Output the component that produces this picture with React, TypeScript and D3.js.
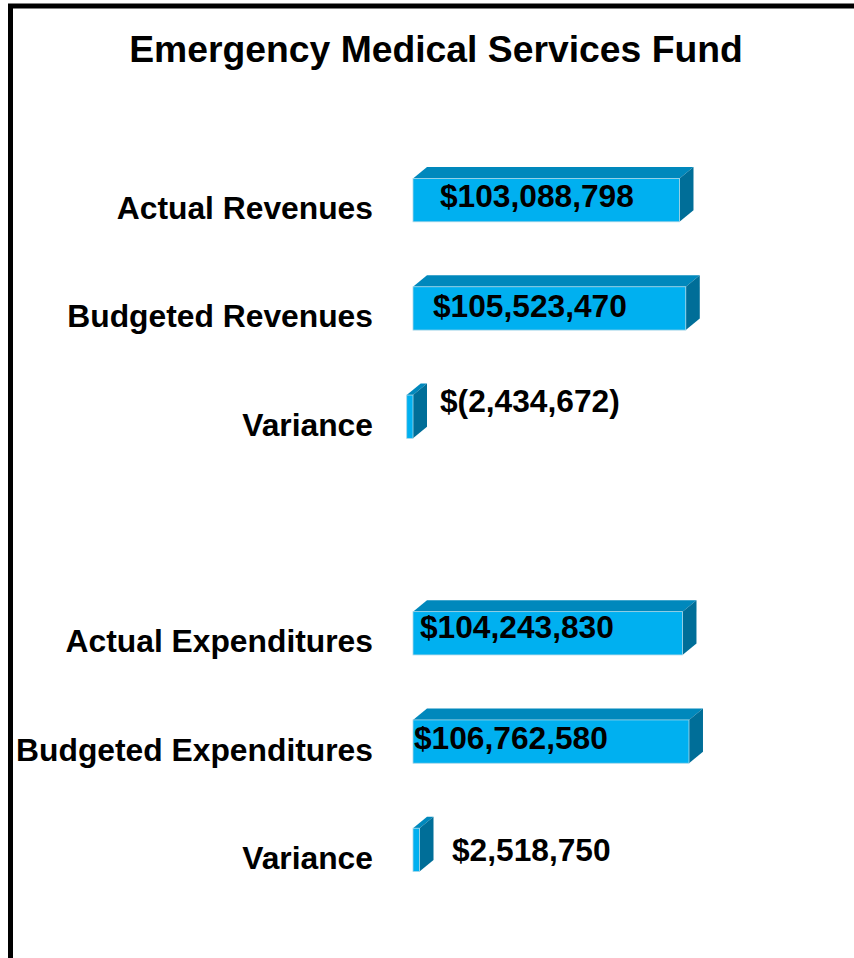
import React from "react";
import * as d3 from "d3";

const title = "Emergency Medical Services Fund";
const categories = [
  "Actual Revenues",
  "Budgeted Revenues",
  "Variance",
  "",
  "Actual Expenditures",
  "Budgeted Expenditures",
  "Variance",
];
const values: (number | null)[] = [
  103088798,
  105523470,
  -2434672,
  null,
  104243830,
  106762580,
  2518750,
];

// layout tweaks for the value labels (pixel offsets, not data)
const valueLabelDx = [27, 20, 27, 0, 7, 1, 39];
const valueLabelDy = [7, 9, -5, 0, 5, 7, 11];

const W = 854;
const H = 958;
const FONT = "'Liberation Sans', Arial, Helvetica, sans-serif";
const DX = 14;
const DY = 11.5;
const FRONT = "#00B0F0";
const TOP = "#0088BC";
const SIDE = "#006E98";

const fmt = (v: number) =>
  v < 0 ? `$(${d3.format(",")(-v)})` : `$${d3.format(",")(v)}`;

export default function App() {
  const idx = categories.map((_, i) => String(i));
  const y = d3
    .scaleBand<string>()
    .domain(idx)
    .range([146, 904])
    .paddingInner(0.6)
    .paddingOuter(0.3);
  const x = d3.scaleLinear().domain([0, 1.2e8]).range([413, 413 + 1.2e8 * 2.585e-6]);
  const bw = y.bandwidth();

  return (
    <svg
      width={W}
      height={H}
      style={{ position: "absolute", left: 0, top: 0, background: "#fff" }}
      fontFamily={FONT}
    >
      <rect x={0} y={0} width={W} height={H} fill="#fff" />
      <rect
        x={10.5}
        y={6}
        width={W + 20}
        height={H + 20}
        fill="none"
        stroke="#000"
        strokeWidth={5}
      />
      <text
        x={436}
        y={62}
        textAnchor="middle"
        fontSize={37.3}
        fontWeight="bold"
        fill="#000"
      >
        {title}
      </text>
      {categories.map((c, i) => {
        const v = values[i];
        const y0 = y(String(i))!;
        const yc = y0 + bw / 2;
        const label = (
          <text
            key={"c" + i}
            x={373}
            y={yc + 19}
            textAnchor="end"
            fontSize={31.8}
            fontWeight="bold"
            fill="#000"
          >
            {c}
          </text>
        );
        if (v === null) return label;
        const x0 = x(Math.min(0, v));
        const x1 = x(Math.max(0, v));
        const y1 = y0 + bw;
        const topPts = [
          [x0, y0],
          [x0 + DX, y0 - DY],
          [x1 + DX, y0 - DY],
          [x1, y0],
        ];
        const sidePts = [
          [x1, y0],
          [x1 + DX, y0 - DY],
          [x1 + DX, y1 - DY],
          [x1, y1],
        ];
        return (
          <g key={"g" + i}>
            {label}
            <polygon points={topPts.map((p) => p.join(",")).join(" ")} fill={TOP} />
            <polygon points={sidePts.map((p) => p.join(",")).join(" ")} fill={SIDE} />
            <rect
              x={x0}
              y={y0}
              width={x1 - x0}
              height={bw}
              fill={FRONT}
              stroke="#a9d6e6"
              strokeWidth={0.8}
            />
            <text
              x={x(0) + valueLabelDx[i]}
              y={yc + valueLabelDy[i]}
              textAnchor="start"
              fontSize={31.7}
              fontWeight="bold"
              fill="#000"
            >
              {fmt(v)}
            </text>
          </g>
        );
      })}
    </svg>
  );
}
